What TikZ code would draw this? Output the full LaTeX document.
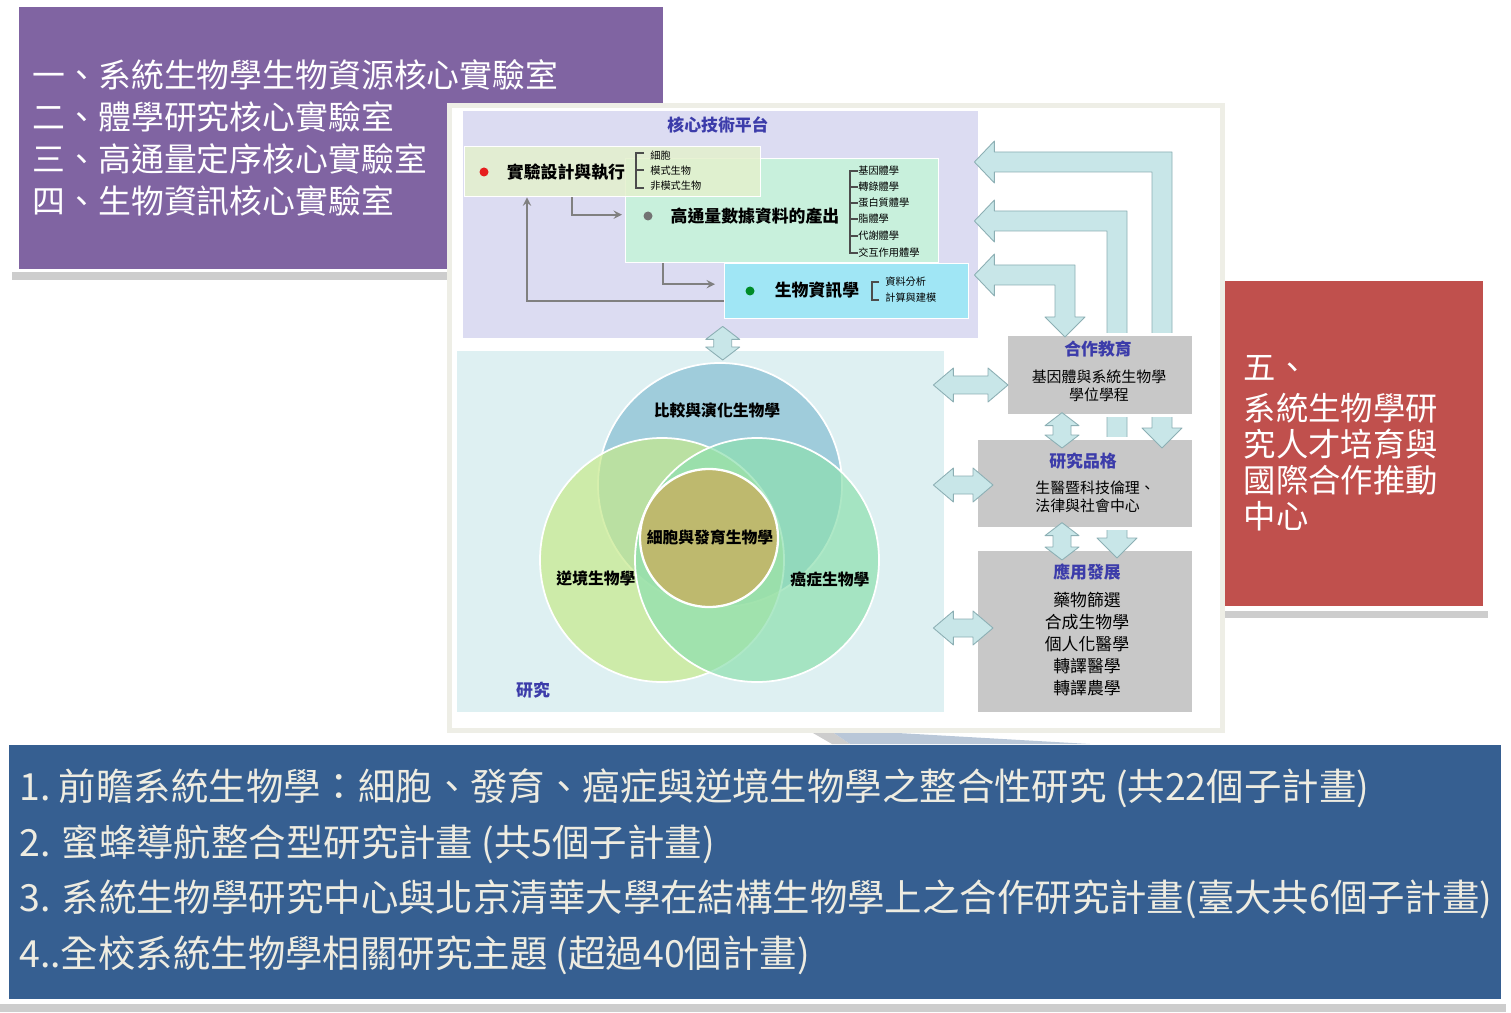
\documentclass[tikz,border=0pt]{standalone}
\usepackage{fontspec}
\setmainfont{Noto Sans CJK TC}
\usetikzlibrary{calc,positioning}

\definecolor{labpurple}{RGB}{128,100,162}
\definecolor{centerred}{RGB}{192,80,77}
\definecolor{projblue}{RGB}{54,95,145}
\definecolor{cream}{RGB}{238,236,225}
\definecolor{shadowgray}{RGB}{205,205,205}
\definecolor{panelrim}{RGB}{238,238,230}
\definecolor{platlav}{RGB}{220,220,242}
\definecolor{expgreen}{RGB}{228,240,205}
\definecolor{htsmint}{RGB}{200,240,220}
\definecolor{biocyan}{RGB}{160,230,245}
\definecolor{respale}{RGB}{222,240,242}
\definecolor{sidegray}{RGB}{200,200,200}
\definecolor{arrfill}{RGB}{200,230,232}
\definecolor{arrline}{RGB}{140,175,180}
\definecolor{titleblue}{RGB}{60,60,170}
\definecolor{flowgray}{RGB}{128,128,128}
\definecolor{venntop}{RGB}{133,190,210}
\definecolor{vennleft}{RGB}{198,233,139}
\definecolor{vennright}{RGB}{141,223,175}
\definecolor{venncore}{RGB}{190,185,110}

\newcommand{\pxu}{0.02cm}
% block arrows: horizontal / vertical with two heads, and an L-shaped one
\newcommand{\hdbl}[3][20]{%
  \coordinate (ha) at (#2); \coordinate (hb) at (#3);
  \draw[blockarrow] (ha) -- ($(ha)+(#1,-17)$) -- ($(ha)+(#1,-9)$) -- ($(hb)+(-#1,-9)$)
    -- ($(hb)+(-#1,-17)$) -- (hb) -- ($(hb)+(-#1,17)$) -- ($(hb)+(-#1,9)$)
    -- ($(ha)+(#1,9)$) -- ($(ha)+(#1,17)$) -- cycle;}
\newcommand{\vdbl}[3][12]{%
  \coordinate (va) at (#2); \coordinate (vb) at (#3);
  \draw[blockarrow] (va) -- ($(va)+(-17,#1)$) -- ($(va)+(-9,#1)$) -- ($(vb)+(-9,-#1)$)
    -- ($(vb)+(-17,-#1)$) -- (vb) -- ($(vb)+(17,-#1)$) -- ($(vb)+(9,-#1)$)
    -- ($(va)+(9,#1)$) -- ($(va)+(17,#1)$) -- cycle;}
\newcommand{\lblock}[2]{%
  \coordinate (la) at (#1); \coordinate (lb) at (#2); \coordinate (lc) at (lb |- la);
  \draw[blockarrow] (la) -- ($(la)+(20,-21)$) -- ($(la)+(20,-10)$) -- ($(lc)+(10,-10)$)
    -- ($(lb)+(10,-20)$) -- ($(lb)+(20,-20)$) -- (lb) -- ($(lb)+(-20,-20)$)
    -- ($(lb)+(-10,-20)$) -- ($(lc)+(-10,10)$) -- ($(la)+(20,10)$)
    -- ($(la)+(20,21)$) -- cycle;}

\begin{document}
\begin{tikzpicture}[x=0.02cm, y=-0.02cm,
  box/.style={anchor=north west, inner sep=0pt, draw=white, line width=0.8pt},
  ttl/.style={text=titleblue, font=\bfseries\fontsize{9.6}{11}\selectfont, inner sep=0pt},
  stage/.style={font=\bfseries\fontsize{9.6}{11}\selectfont, inner sep=0pt},
  item/.style={anchor=west, font=\fontsize{5.8}{7}\selectfont, inner sep=0pt},
  dot/.style={circle, inner sep=0pt, minimum size=9*\pxu},
  brack/.style={draw=black!70, line width=0.6pt},
  flow/.style={draw=flowgray, line width=1.1pt, ->},
  blockarrow/.style={fill=arrfill, draw=arrline, line width=0.5pt, line join=round},
  venn/.style={circle, inner sep=0pt, minimum size=244*\pxu, fill opacity=0.7, draw=white, line width=1pt},
  vlabel/.style={font=\bfseries\fontsize{9}{10}\selectfont, inner sep=0pt},
  side/.style={box, fill=sidegray, line width=1.5pt},
  sidetext/.style={font=\fontsize{8.5}{10.2}\selectfont, inner sep=0pt, align=center}]
\tikzset{>=stealth}
\useasboundingbox (0,0) rectangle (1511,1013);

% shadow strips under the three text panels
\fill[shadowgray] (12,272) rectangle (450,280);
\fill[shadowgray] (1220,611) rectangle (1488,618);
\fill[shadowgray] (0,1004) rectangle (1506,1012);

\node[box, draw=none, fill=labpurple, text=white, minimum width=644*\pxu, minimum height=262*\pxu,
  text width=616*\pxu, inner xsep=14*\pxu, align=left, font=\fontsize{18.7}{23.8}\selectfont] (labs) at (18,6)
  {一、系統生物學生物資源核心實驗室\\二、體學研究核心實驗室\\三、高通量定序核心實驗室\\四、生物資訊核心實驗室};

\node[box, draw=none, fill=centerred, text=white, minimum width=260*\pxu, minimum height=325*\pxu,
  text width=218*\pxu, inner xsep=21*\pxu, align=left, font=\fontsize{18.4}{20.4}\selectfont] (talent) at (1222,280)
  {五、\\[3pt]系統生物學研\\究人才培育與\\國際合作推動\\中心};

\node[box, draw=none, fill=projblue, minimum width=1492*\pxu, minimum height=254*\pxu] (projs) at (8,744) {};
\node[right=0.22cm of projs.west, inner sep=0pt, text=cream, align=left, font=\fontsize{21.3}{31.7}\selectfont] (projtxt)
  {1.~前瞻系統生物學：細胞、發育、癌症與逆境生物學之整合性研究 (共22個子計畫)\\
   2. 蜜蜂導航整合型研究計畫 (共5個子計畫)\\
   3. 系統生物學研究中心與北京清華大學在結構生物學上之合作研究計畫(臺大共6個子計畫)\\
   4..全校系統生物學相關研究主題 (超過40個計畫)};

% callout tail
\fill[shadowgray] (806,729) -- (828,729) -- (850,744) -- (832,744) -- cycle;
\fill[projblue!35!white] (828,729) -- (1090,744) -- (850,744) -- cycle;

% picture panel
\node[box, fill=white, draw=panelrim, line width=3pt, minimum width=773*\pxu, minimum height=625*\pxu] (fig) at (447,103) {};

% core platform
\node[box, fill=platlav, minimum width=516*\pxu, minimum height=228*\pxu] (plat) at (462,110) {};
\node[ttl] (plattitle) at (718,125) {核心技術平台};
\node[box, fill=htsmint, minimum width=313*\pxu, minimum height=104*\pxu] (hts) at (625,158) {};
\node[box, fill=expgreen, fill opacity=0.85, minimum width=296*\pxu, minimum height=50*\pxu] (exp) at (464,146) {};
\node[box, fill=biocyan, minimum width=244*\pxu, minimum height=55*\pxu] (bio) at (724,263) {};

\node[dot, fill={rgb,255:red,230;green,30;blue,30}] (expdot) at (484,172) {};
\node[stage] (exptxt) at (566,172) {實驗設計與執行};
\draw[brack] (644,153) -| (636,188) -- (644,188);
\draw[brack] (636,170) -- (644,170);
\node[item] (cell) at (650,156) {細胞};
\node[item] (model) at (650,171) {模式生物};
\node[item] (nonmodel) at (650,186) {非模式生物};

\node[dot, fill=black!55] (htsdot) at (648,216) {};
\node[stage] (htstxt) at (755,216) {高通量數據資料的產出};
\draw[brack] (858,171) -| (850,253) -- (858,253);
\foreach \yy in {187,203,219,236} \draw[brack] (850,\yy) -- (858,\yy);
\node[item] (genome) at (858,171) {基因體學};
\node[item] (transc) at (858,187) {轉錄體學};
\node[item] (protein) at (858,203) {蛋白質體學};
\node[item] (lipid) at (858,219) {脂體學};
\node[item] (metab) at (858,236) {代謝體學};
\node[item] (interact) at (858,253) {交互作用體學};

\node[dot, fill={rgb,255:red,0;green,140;blue,40}] (biodot) at (750,291) {};
\node[stage] (biotxt) at (817,290) {生物資訊學};
\draw[brack] (879,282) -| (872,300) -- (879,300);
\node[item] (analysis) at (885,282) {資料分析};
\node[item] (model2) at (885,298) {計算與建模};

\draw[flow] ($(exp.south west)+(108,0)$) |- ($(hts.west)+(-3,4)$);
\draw[flow] ($(hts.south west)+(38,0)$) |- ($(bio.west)+(-9,-7)$);
\draw[flow] ($(bio.west)+(0,10)$) -| ($(exp.south west)+(63,0)$);

% research
\node[box, fill=respale, minimum width=488*\pxu, minimum height=362*\pxu] (res) at (456,350) {};
\node[ttl] (restitle) at (533,690) {研究};
\node[venn, fill=venntop] (evo) at (720,485) {};
\node[venn, fill=vennleft] (stress) at (662,560) {};
\node[venn, fill=vennright] (cancer) at (757,560) {};
\node[circle, inner sep=0pt, minimum size=138*\pxu, fill=venncore, draw=white, line width=1.3pt] (core) at (709,538) {};
\node[vlabel] (evotxt) at (717,410) {比較與演化生物學};
\node[vlabel] (stresstxt) at (596,578) {逆境生物學};
\node[vlabel] (cancertxt) at (830,579) {癌症生物學};
\node[vlabel] (coretxt) at (710,537) {細胞與發育生物學};

\vdbl[13]{$(plat.south)+(2,-13)$}{$(res.north)+(22,10)$}

% right column
\node[side, minimum width=217*\pxu, minimum height=164*\pxu] (app) at (975,548) {};
\lblock{$(plat.north east)+(-5,111)$}{$(app.north west)+(142,10)$}
\node[side, minimum width=217*\pxu, minimum height=90*\pxu] (ethic) at (975,437) {};
\lblock{$(plat.north east)+(-5,52)$}{$(ethic.north west)+(187,11)$}
\node[side, minimum width=187*\pxu, minimum height=81*\pxu] (coop) at (1005,333) {};
\lblock{$(plat.north east)+(-5,165)$}{$(coop.north west)+(60,4)$}

\node[ttl] (cooptitle) at (1098,349) {合作教育};
\node[sidetext] (cooptxt) at (1099,386) {基因體與系統生物學\\學位學程};
\node[ttl] (ethictitle) at (1083,461) {研究品格};
\node[sidetext, anchor=west, align=left] (ethictxt) at (1035,497) {生醫暨科技倫理、\\法律與社會中心};
\node[ttl] (apptitle) at (1087,572) {應用發展};
\node[sidetext, font=\fontsize{9.6}{12.5}\selectfont] (apptxt) at (1087,644) {藥物篩選\\合成生物學\\個人化醫學\\轉譯醫學\\轉譯農學};

\vdbl[13]{$(coop.south west)+(57,-4)$}{$(ethic.north west)+(87,11)$}
\vdbl[13]{$(ethic.south west)+(87,-7)$}{$(app.north west)+(87,12)$}

\hdbl{$(res.north east)+(-12,35)$}{$(coop.north west)+(3,52)$}
\hdbl{$(res.north east)+(-12,135)$}{$(ethic.north west)+(18,48)$}
\hdbl{$(res.north east)+(-12,278)$}{$(app.north west)+(18,80)$}
\end{tikzpicture}
\end{document}
